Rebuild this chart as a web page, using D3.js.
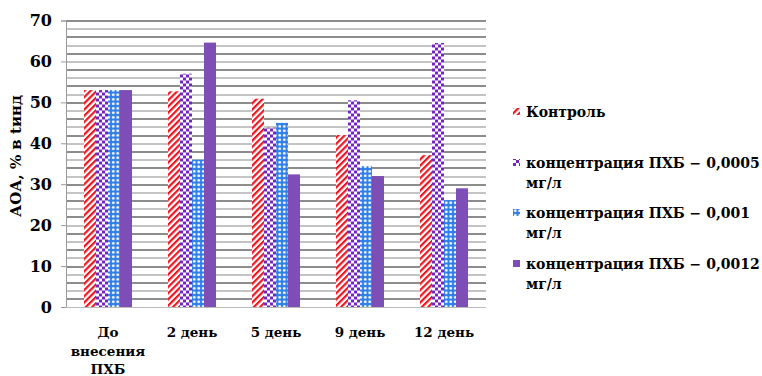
<!DOCTYPE html>
<head>
<meta charset="utf-8">
<style>
body { margin: 0; background: #fff; }
svg text { font-weight: bold; fill: #000; }
</style>
<script src="https://cdn.jsdelivr.net/npm/d3@7"></script>
</head>
<body>
<div id="chart"></div>
<script>

var categories = [["До", "внесения", "ПХБ"], ["2 день"], ["5 день"], ["9 день"], ["12 день"]];
var seriesNames = [
  ["Контроль"],
  ["концентрация ПХБ − 0,0005", "мг/л"],
  ["концентрация ПХБ − 0,001", "мг/л"],
  ["концентрация ПХБ − 0,0012", "мг/л"]
];
var control = [53, 52.7, 50.9, 42, 37.1];
var c0005 = [53, 57, 43.8, 50.5, 64.5];
var c001 = [53, 36, 45, 34.4, 26.1];
var c0012 = [53, 64.6, 32.4, 32, 29];
var yTicks = [0, 10, 20, 30, 40, 50, 60, 70];

var series = [control, c0005, c001, c0012];
var fills = ["url(#stripe)", "url(#check)", "url(#dots)", "#7d4fb6"];
var serif = "DejaVu Serif";

var margin = {top: 20.5, right: 276, bottom: 69, left: 66},
    width = 762 - margin.left - margin.right,
    height = 376 - margin.top - margin.bottom;

var svg = d3.select("#chart").append("svg")
    .attr("width", 762)
    .attr("height", 376)
    .attr("font-family", serif);

// patterns
var defs = svg.append("defs");
var p1 = defs.append("pattern").attr("id", "stripe")
    .attr("patternUnits", "userSpaceOnUse").attr("width", 4.4).attr("height", 4.4)
    .attr("patternTransform", "rotate(45)");
p1.append("rect").attr("width", 4.4).attr("height", 4.4).attr("fill", "#fff");
p1.append("rect").attr("width", 2.2).attr("height", 4.4).attr("fill", "#f0141e");

var p2 = defs.append("pattern").attr("id", "check")
    .attr("patternUnits", "userSpaceOnUse").attr("width", 6).attr("height", 6);
p2.append("rect").attr("width", 6).attr("height", 6).attr("fill", "#fff");
p2.append("rect").attr("width", 3).attr("height", 3).attr("fill", "#7424c4");
p2.append("rect").attr("x", 3).attr("y", 3).attr("width", 3).attr("height", 3).attr("fill", "#7424c4");

var p3 = defs.append("pattern").attr("id", "dots")
    .attr("patternUnits", "userSpaceOnUse").attr("width", 4.5).attr("height", 4.5);
p3.append("rect").attr("width", 4.5).attr("height", 4.5).attr("fill", "#2f7fe6");
p3.append("circle").attr("cx", 2.25).attr("cy", 2.25).attr("r", 1.4).attr("fill", "#fff");

var g = svg.append("g")
    .attr("transform", "translate(" + margin.left + "," + margin.top + ")");

var x0 = d3.scaleBand().domain(d3.range(categories.length)).range([0, width]);
var x1 = d3.scaleBand().domain(d3.range(series.length)).range([0, 48]);
var y = d3.scaleLinear().domain([0, 70]).range([height, 0]);

// gridlines every 2
g.selectAll(".grid")
  .data(d3.range(2, 71, 2))
  .enter().append("line")
    .attr("x1", 0).attr("x2", width)
    .attr("y1", function(d) { return Math.round(y(d)) + 0.5; })
    .attr("y2", function(d) { return Math.round(y(d)) + 0.5; })
    .attr("stroke", function(d, i) { return i % 2 ? "#888" : "#1a1a1a"; })
    .attr("stroke-width", 1);

// bars
series.forEach(function(s, si) {
  g.selectAll(".bar" + si)
    .data(s)
    .enter().append("rect")
      .attr("x", function(d, i) { return x0(i) + (x0.bandwidth() - 48) / 2 + x1(si); })
      .attr("y", function(d) { return y(d); })
      .attr("width", x1.bandwidth())
      .attr("height", function(d) { return height - y(d); })
      .attr("fill", fills[si]);
});

// axes
var yAxis = g.append("g")
    .call(d3.axisLeft(y).tickValues(yTicks).tickSize(5).tickPadding(9))
    .attr("font-family", serif);
yAxis.select(".domain").attr("stroke", "#999");
yAxis.selectAll(".tick line").attr("stroke", "#999");
yAxis.selectAll("text").attr("font-size", 16).attr("fill", "#000");

g.append("line")
    .attr("x1", 0).attr("x2", width)
    .attr("y1", height + 0.5).attr("y2", height + 0.5)
    .attr("stroke", "#bbb");

// category labels
var cat = g.selectAll(".cat")
  .data(categories)
  .enter().append("text")
    .attr("text-anchor", "middle")
    .attr("x", function(d, i) { return x0(i) + x0.bandwidth() / 2; })
    .attr("y", height + 30)
    .attr("font-size", 13.5);
cat.selectAll("tspan")
  .data(function(d) { return d; })
  .enter().append("tspan")
    .attr("x", function() { return d3.select(this.parentNode).attr("x"); })
    .attr("dy", function(d, i) { return i ? 18.5 : 0; })
    .text(function(d) { return d; });

// y title
svg.append("text")
    .attr("transform", "translate(21,156) rotate(-90)")
    .attr("text-anchor", "middle")
    .attr("font-size", 15)
    .text("АОА, % в tинд");

// legend
var legendY = [112, 163, 213, 264];
var legend = svg.selectAll(".legend")
  .data(seriesNames)
  .enter().append("g")
    .attr("transform", function(d, i) { return "translate(513," + legendY[i] + ")"; });
legend.append("rect")
    .attr("x", 0).attr("y", -4)
    .attr("width", 7).attr("height", 7)
    .attr("fill", function(d, i) { return fills[i]; });
legend.append("text")
    .attr("x", 13).attr("y", 5)
    .attr("font-size", 14)
  .selectAll("tspan")
  .data(function(d) { return d; })
  .enter().append("tspan")
    .attr("x", 13)
    .attr("dy", function(d, i) { return i ? 20 : 0; })
    .text(function(d) { return d; });

</script>
</body>
